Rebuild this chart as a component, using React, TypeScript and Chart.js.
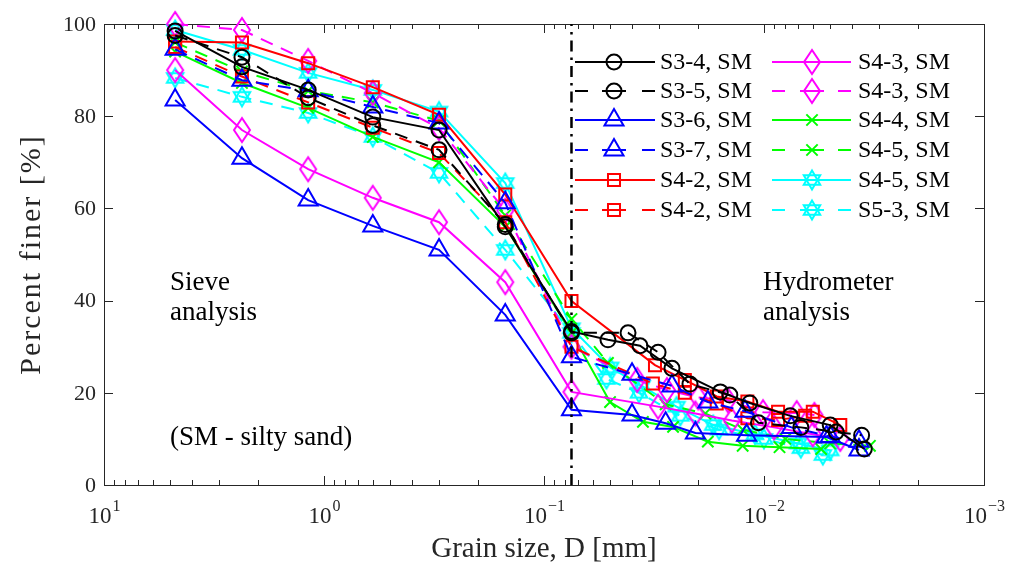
import React, { useEffect, useRef } from "react";
import { Chart, registerables } from "chart.js";
import { drawPoint } from "chart.js/helpers";

Chart.register(...registerables);

// ---------------- data ----------------
const SIEVE_D = [4.75, 2.36, 1.18, 0.6, 0.3, 0.15, 0.075];

const S34_SIEVE = [98.5, 90.7, 85.7, 79.8, 77, 56, 33.3];
const S34_HD = [0.0512, 0.0366, 0.0262, 0.0158, 0.0116, 0.0076, 0.005, 0.0035];
const S34_HV = [31.5, 30.2, 25.3, 20.2, 17.8, 15, 13, 7.8];

const S35_SIEVE = [97.5, 92.8, 84, 78, 72.7, 56.5, 33];
const S35_HD = [0.0415, 0.0303, 0.0217, 0.0143, 0.0106, 0.0068, 0.0047, 0.0036];
const S35_HV = [33, 28.8, 21.9, 19.5, 13.5, 12.5, 11.5, 10.8];

const S36_SIEVE = [83.5, 70.9, 61.8, 56.2, 51, 36.9, 16.3];
const S36_HD = [0.0398, 0.028, 0.0205, 0.012, 0.0052, 0.0037];
const S36_HV = [15.2, 13.4, 11.3, 10.8, 10.4, 7.6];

const S37_SIEVE = [94.5, 87.8, 85.5, 82, 78.5, 61.2, 27.8];
const S37_HD = [0.0398, 0.0262, 0.018, 0.0122, 0.0075, 0.005, 0.0037];
const S37_HV = [24, 21.5, 18, 16, 12.5, 10.5, 9.5];

const S42A_SIEVE = [96.2, 96, 91.5, 86.3, 80.3, 63, 39.9];
const S42A_HD = [0.0313, 0.0229, 0.0164, 0.0119, 0.00863, 0.006, 0.0045];
const S42A_HV = [26, 22.8, 19.2, 18.1, 15.9, 15.9, 13];

const S42B_SIEVE = [95, 88.6, 83, 77.5, 72, 57, 30];
const S42B_HD = [0.032, 0.0229, 0.0164, 0.0119, 0.00863, 0.0065];
const S42B_HV = [22, 20, 17.7, 14.5, 14.1, 15];

const S43A_SIEVE = [90, 77, 68.5, 62.3, 57, 44, 20.2];
const S43A_HD = [0.0303, 0.0205, 0.014, 0.009, 0.006, 0.0045];
const S43A_HV = [17, 15.5, 14, 12.5, 11, 10];

const S43B_SIEVE = [100, 98.7, 92, 85, 77.4, 59.5, 30];
const S43B_HD = [0.0377, 0.0276, 0.0199, 0.0146, 0.0101, 0.0071, 0.0059];
const S43B_HV = [22.8, 20.6, 19, 18.4, 15.8, 15.6, 15.2];

const S44_SIEVE = [94, 87.2, 81.8, 75.5, 70, 56, 33];
const S44_HD = [0.0501, 0.0355, 0.0259, 0.018, 0.0125, 0.0085, 0.0055];
const S44_HV = [18, 13.7, 12.6, 9.4, 8.5, 8.2, 7.8];

const S45G_SIEVE = [96, 89.7, 85.5, 83, 79, 58.5, 36];
const S45G_HD = [0.0512, 0.028, 0.0185, 0.0125, 0.008, 0.005, 0.0033];
const S45G_HV = [26.5, 17.5, 15.5, 12, 10, 9, 8.5];

const S45C_SIEVE = [98.7, 94.4, 89.4, 85.7, 81, 65.5, 34];
const S45C_HD = [0.05, 0.036, 0.025, 0.017, 0.011, 0.007, 0.005];
const S45C_HV = [25.5, 21.5, 17, 13, 11, 9, 7.5];

const S53_SIEVE = [88.3, 84.2, 80.7, 75.5, 67.7, 51, 33];
const S53_HD = [0.052, 0.037, 0.024, 0.016, 0.01, 0.0068, 0.0054];
const S53_HV = [23, 20, 15, 12, 10, 8, 6.5];

const SERIES_LABELS = [
  "S3-4, SM", "S3-5, SM", "S3-6, SM", "S3-7, SM", "S4-2, SM", "S4-2, SM",
  "S4-3, SM", "S4-3, SM", "S4-4, SM", "S4-5, SM", "S4-5, SM", "S5-3, SM",
];

const X_TICKS = [10, 1, 0.1, 0.01, 0.001];
const X_TICK_EXP = ["1", "0", "\u22121", "\u22122", "\u22123"];
const Y_TICKS = [0, 20, 40, 60, 80, 100];
const BOUNDARY_D = 0.075;

// ---------------- styling ----------------
const SERIF = "'Liberation Serif', 'DejaVu Serif', serif";
const AXIS_COLOR = "#262626";
const DASH = [13, 9];

function makeCanvas(w: number, h: number, draw: (c: CanvasRenderingContext2D) => void) {
  const c = document.createElement("canvas");
  c.width = w;
  c.height = h;
  const ctx = c.getContext("2d")!;
  draw(ctx);
  return c;
}

function hexagram(color: string) {
  const r = 9.5;
  const s = 26;
  return makeCanvas(s, s, (ctx) => {
    ctx.strokeStyle = color;
    ctx.lineWidth = 2;
    for (const rot of [-Math.PI / 2, Math.PI / 2]) {
      ctx.beginPath();
      for (let i = 0; i < 3; i++) {
        const a = rot + (i * 2 * Math.PI) / 3;
        const px = s / 2 + r * Math.cos(a);
        const py = s / 2 + r * Math.sin(a);
        if (i === 0) ctx.moveTo(px, py);
        else ctx.lineTo(px, py);
      }
      ctx.closePath();
      ctx.stroke();
    }
  });
}

function diamond(color: string) {
  const w = 22;
  const h = 30;
  return makeCanvas(w, h, (ctx) => {
    ctx.strokeStyle = color;
    ctx.lineWidth = 2;
    ctx.beginPath();
    ctx.moveTo(w / 2, h / 2 - 12);
    ctx.lineTo(w / 2 + 8, h / 2);
    ctx.lineTo(w / 2, h / 2 + 12);
    ctx.lineTo(w / 2 - 8, h / 2);
    ctx.closePath();
    ctx.stroke();
  });
}

type Marker = { style: any; radius: number };

function build(sieve: number[], hd: number[], hv: number[]) {
  return SIEVE_D.map((d, i) => ({ x: d, y: sieve[i] })).concat(
    hd.map((d, i) => ({ x: d, y: hv[i] }))
  );
}

export default function App() {
  const ref = useRef<HTMLCanvasElement | null>(null);

  useEffect(() => {
    document.body.style.margin = "0";
    const canvas = ref.current;
    if (!canvas) return;

    const black = "#000000";
    const blue = "#0000ff";
    const red = "#ff0000";
    const magenta = "#ff00ff";
    const green = "#00ff00";
    const cyan = "#00ffff";

    const circle: Marker = { style: "circle", radius: 7.5 };
    const tri: Marker = { style: "triangle", radius: 11 };
    const sq: Marker = { style: "rect", radius: 8.5 };
    const diaM: Marker = { style: diamond(magenta), radius: 10 };
    const xm: Marker = { style: "crossRot", radius: 8 };
    const hexC: Marker = { style: hexagram(cyan), radius: 10 };

    const defs: { data: any[]; color: string; dashed: boolean; m: Marker }[] = [
      { data: build(S34_SIEVE, S34_HD, S34_HV), color: black, dashed: false, m: circle },
      { data: build(S35_SIEVE, S35_HD, S35_HV), color: black, dashed: true, m: circle },
      { data: build(S36_SIEVE, S36_HD, S36_HV), color: blue, dashed: false, m: tri },
      { data: build(S37_SIEVE, S37_HD, S37_HV), color: blue, dashed: true, m: tri },
      { data: build(S42A_SIEVE, S42A_HD, S42A_HV), color: red, dashed: false, m: sq },
      { data: build(S42B_SIEVE, S42B_HD, S42B_HV), color: red, dashed: true, m: sq },
      { data: build(S43A_SIEVE, S43A_HD, S43A_HV), color: magenta, dashed: false, m: diaM },
      { data: build(S43B_SIEVE, S43B_HD, S43B_HV), color: magenta, dashed: true, m: diaM },
      { data: build(S44_SIEVE, S44_HD, S44_HV), color: green, dashed: false, m: xm },
      { data: build(S45G_SIEVE, S45G_HD, S45G_HV), color: green, dashed: true, m: xm },
      { data: build(S45C_SIEVE, S45C_HD, S45C_HV), color: cyan, dashed: false, m: hexC },
      { data: build(S53_SIEVE, S53_HD, S53_HV), color: cyan, dashed: true, m: hexC },
    ];

    const datasets = defs.map((d, i) => ({
      label: SERIES_LABELS[i],
      data: d.data,
      borderColor: d.color,
      backgroundColor: "rgba(0,0,0,0)",
      borderWidth: 2,
      borderDash: d.dashed ? DASH : [],
      pointStyle: d.m.style,
      pointRadius: d.m.radius,
      pointHoverRadius: d.m.radius,
      pointBorderWidth: 2,
      pointBorderColor: d.color,
      pointBackgroundColor: "rgba(0,0,0,0)",
      fill: false,
      tension: 0,
      clip: false as any,
    }));

    const axesPlugin = {
      id: "matlabAxes",
      beforeDatasetsDraw(chart: any) {
        const { ctx, chartArea: a, scales } = chart;
        const xs = scales.x;
        const ys = scales.y;
        ctx.save();
        ctx.strokeStyle = AXIS_COLOR;
        ctx.lineWidth = 1;
        ctx.setLineDash([]);
        ctx.strokeRect(a.left + 0.5, a.top + 0.5, a.right - a.left, a.bottom - a.top);
        ctx.beginPath();
        for (let k = -3; k <= 1; k++) {
          for (let m = 1; m <= 9; m++) {
            const v = m * Math.pow(10, k);
            if (v > 10.0001 || v < 0.00099) continue;
            const px = Math.round(xs.getPixelForValue(v)) + 0.5;
            const len = m === 1 ? 9 : 5;
            ctx.moveTo(px, a.bottom);
            ctx.lineTo(px, a.bottom - len);
            ctx.moveTo(px, a.top);
            ctx.lineTo(px, a.top + len);
          }
        }
        for (const t of Y_TICKS) {
          const py = Math.round(ys.getPixelForValue(t)) + 0.5;
          ctx.moveTo(a.left, py);
          ctx.lineTo(a.left + 9, py);
          ctx.moveTo(a.right, py);
          ctx.lineTo(a.right - 9, py);
        }
        ctx.stroke();

        ctx.fillStyle = AXIS_COLOR;
        ctx.font = `22px ${SERIF}`;
        ctx.textAlign = "right";
        ctx.textBaseline = "middle";
        for (const t of Y_TICKS) {
          ctx.fillText(String(t), a.left - 8, ys.getPixelForValue(t) + 1);
        }
        ctx.textBaseline = "alphabetic";
        ctx.textAlign = "left";
        X_TICKS.forEach((v, i) => {
          const px = xs.getPixelForValue(v);
          ctx.font = `23px ${SERIF}`;
          const wb = ctx.measureText("10").width;
          ctx.font = `16px ${SERIF}`;
          const we = ctx.measureText(X_TICK_EXP[i]).width;
          const x0 = px - (wb + we) / 2;
          ctx.font = `23px ${SERIF}`;
          ctx.fillText("10", x0, 523);
          ctx.font = `16px ${SERIF}`;
          ctx.fillText(X_TICK_EXP[i], x0 + wb + 1, 511);
        });

        ctx.font = `29px ${SERIF}`;
        ctx.textAlign = "center";
        ctx.fillText("Grain size, D [mm]", (a.left + a.right) / 2, 557);
        ctx.save();
        ctx.translate(32, (a.top + a.bottom) / 2);
        ctx.rotate(-Math.PI / 2);
        ctx.textBaseline = "middle";
        try {
          (ctx as any).letterSpacing = "2px";
        } catch (e) {}
        ctx.font = `30px ${SERIF}`;
        ctx.fillText("Percent finer [%]", 0, 0);
        try {
          (ctx as any).letterSpacing = "0px";
        } catch (e) {}
        ctx.restore();

        ctx.fillStyle = "#000";
        ctx.font = `27px ${SERIF}`;
        ctx.textAlign = "left";
        ctx.fillText("Sieve", 170, 290);
        ctx.fillText("analysis", 170, 320);
        ctx.fillText("(SM - silty sand)", 170, 445);
        ctx.fillText("Hydrometer", 763, 290);
        ctx.fillText("analysis", 763, 320);
        ctx.restore();
      },
      afterDatasetsDraw(chart: any) {
        const { ctx, chartArea: a, scales } = chart;
        const px = scales.x.getPixelForValue(BOUNDARY_D);
        ctx.save();
        ctx.strokeStyle = "#000";
        ctx.lineWidth = 2.5;
        ctx.setLineDash([11, 6, 2.5, 6]);
        ctx.beginPath();
        ctx.moveTo(px, a.bottom);
        ctx.lineTo(px, a.top);
        ctx.stroke();
        ctx.restore();

        ctx.save();
        const cols = [
          { x0: 575, x1: 655, mx: 614, tx: 660 },
          { x0: 772, x1: 851, mx: 812, tx: 858 },
        ];
        const rows = [62, 91, 120, 150, 180, 210];
        defs.forEach((d, i) => {
          const c = cols[Math.floor(i / 6)];
          const y = rows[i % 6];
          ctx.strokeStyle = d.color;
          ctx.lineWidth = 2;
          ctx.setLineDash([]);
          ctx.beginPath();
          if (d.dashed) {
            ctx.moveTo(c.x0, y);
            ctx.lineTo(c.x0 + 13, y);
            ctx.moveTo(c.x1 - 13, y);
            ctx.lineTo(c.x1, y);
            ctx.moveTo(c.mx - 12, y);
            ctx.lineTo(c.mx + 12, y);
          } else {
            ctx.moveTo(c.x0, y);
            ctx.lineTo(c.x1, y);
          }
          ctx.stroke();
          ctx.fillStyle = "rgba(0,0,0,0)";
          ctx.strokeStyle = d.color;
          ctx.lineWidth = 2;
          drawPoint(ctx, { pointStyle: d.m.style, radius: d.m.radius, borderWidth: 2, rotation: 0 } as any, c.mx, y);
          ctx.fillStyle = "#000";
          ctx.font = `24px ${SERIF}`;
          ctx.textAlign = "left";
          ctx.textBaseline = "middle";
          ctx.fillText(SERIES_LABELS[i], c.tx, y + 1);
        });
        ctx.restore();
      },
    };

    const chart = new Chart(canvas, {
      type: "line",
      data: { datasets: datasets as any },
      options: {
        responsive: false,
        maintainAspectRatio: false,
        animation: false,
        devicePixelRatio: 1,
        layout: { padding: { left: 104, right: 25, top: 24, bottom: 79 } },
        plugins: { legend: { display: false }, tooltip: { enabled: false } },
        scales: {
          x: {
            type: "logarithmic",
            min: 0.001,
            max: 10,
            reverse: true,
            display: false,
          },
          y: { type: "linear", min: 0, max: 100, display: false },
        },
      },
      plugins: [axesPlugin],
    });

    return () => chart.destroy();
  }, []);

  return (
    <div style={{ width: 1009, height: 564, background: "#fff" }}>
      <canvas ref={ref} width={1009} height={564} style={{ display: "block", width: 1009, height: 564 }} />
    </div>
  );
}
